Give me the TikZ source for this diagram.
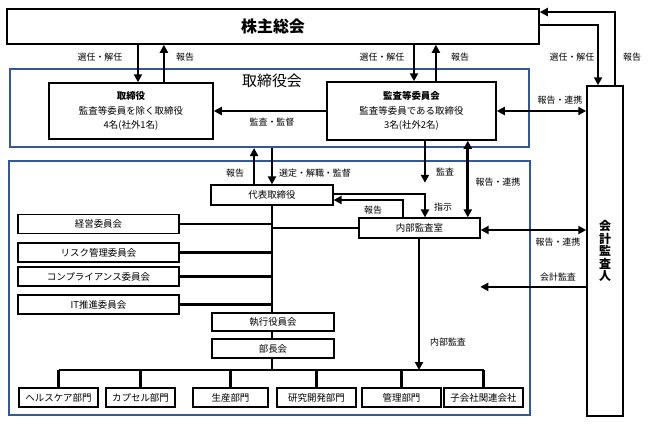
\documentclass[tikz,border=0pt]{standalone}
\usepackage{fontspec}
\setmainfont{Noto Sans CJK JP}
\usetikzlibrary{arrows.meta, positioning}
\definecolor{frameblue}{RGB}{50,88,150}
\tikzset{
  box/.style={draw, line width=1.2bp, fill=white, inner sep=0pt, font=\fontsize{9.5}{11}\selectfont},
  frame/.style={draw=frameblue, line width=2bp, inner sep=0pt},
  link/.style={line width=2.6bp},
  arr/.style={link, -{Triangle[length=8bp,width=8bp]}},
  darr/.style={link, {Triangle[length=8bp,width=8bp]}-{Triangle[length=8bp,width=8bp]}},
  lbl/.style={font=\fontsize{9}{10}\selectfont, inner sep=1pt}
}
\begin{document}
\begin{tikzpicture}[x=1bp, y=-1bp]
            \useasboundingbox (0,0) rectangle (648,424);

            % frames
            \node[frame, minimum width=519bp, minimum height=78bp] (board) at (269.5,108) {};
            \node[frame, minimum width=521bp, minimum height=254bp] (exec) at (269.5,288) {};
            \node[font=\fontsize{15}{16}\selectfont] (boardt) at (272,81) {取締役会};

            \node[box, line width=1.5bp, minimum width=532bp, minimum height=35bp, font=\fontsize{16}{18}\selectfont\bfseries] (sh) at (273,26.5) {株主総会};
            \node[box, line width=1.5bp, minimum width=164bp, minimum height=56bp, align=center, font=\fontsize{9.5}{14.5}\selectfont] (dir) at (131,111) {\textbf{取締役}\\監査等委員を除く取締役\\4名(社外1名)};
            \node[box, line width=1.5bp, minimum width=169bp, minimum height=58bp, align=center, font=\fontsize{9.5}{14.5}\selectfont] (acm) at (411.5,111) {\textbf{監査等委員会}\\監査等委員である取締役\\3名(社外2名)};
            \node[box, line width=1.5bp, minimum width=36bp, minimum height=330bp, align=center, font=\fontsize{12}{12.5}\selectfont\bfseries] (aud) at (605,251) {会\\計\\監\\査\\人};

            \node[box, minimum width=122bp, minimum height=20bp] (ceo) at (272,195) {代表取締役};
            \node[box, minimum width=121bp, minimum height=20bp] (ia) at (419.5,228) {内部監査室};

            % committees
            \node[box, minimum width=161bp, minimum height=19bp] (c1) at (98.5,224) {経営委員会};
            \node[box, minimum width=161bp, minimum height=19bp] (c2) at (98.5,252.5) {リスク管理委員会};
            \node[box, minimum width=161bp, minimum height=19bp] (c3) at (98.5,276.5) {コンプライアンス委員会};
            \node[box, minimum width=161bp, minimum height=19bp] (c4) at (98.5,304.5) {IT推進委員会};

            \node[box, minimum width=122bp, minimum height=18bp] (off) at (273,322) {執行役員会};
            \node[box, minimum width=122bp, minimum height=19bp] (mgr) at (273,348.5) {部長会};

            % departments
            \node[box, minimum width=79bp, minimum height=19bp] (hc) at (58.5,397.5) {ヘルスケア部門};
            \node[box, minimum width=69bp, minimum height=19bp] (cap) at (140.5,397.5) {カプセル部門};
            \node[box, minimum width=75bp, minimum height=19bp] (prod) at (230.5,397.5) {生産部門};
            \node[box, minimum width=79bp, minimum height=19bp] (rd) at (316.5,397.5) {研究開発部門};
            \node[box, minimum width=79bp, minimum height=19bp] (adm) at (401.5,397.5) {管理部門};
            \node[box, minimum width=79bp, minimum height=19bp] (sub) at (483.5,397.5) {子会社関連会社};
            \coordinate (bus) at (272,370);

            % shareholders <-> board
            \draw[arr] ([xshift=7]dir.north |- sh.south) -- ([xshift=7]dir.north);
            \draw[arr] ([xshift=33]dir.north) -- ([xshift=33]dir.north |- sh.south);
            \draw[arr] ([xshift=2.5]acm.north |- sh.south) -- ([xshift=2.5]acm.north);
            \draw[arr] ([xshift=24.5]acm.north) -- ([xshift=24.5]acm.north |- sh.south);
            \draw[arr] ([yshift=1.5]sh.east) -| ([xshift=-7]aud.north);
            \draw[arr] ([xshift=10]aud.north) |- ([yshift=14.5]sh.east);
            \node[lbl] (l1) at (100,57) {選任・解任};
            \node[lbl] (l2) at (185,57) {報告};
            \node[lbl] (l3) at (382,57) {選任・解任};
            \node[lbl] (l4) at (460,57) {報告};
            \node[lbl] (l5) at (572,57) {選任・解任};
            \node[lbl] (l6) at (632,57) {報告};

            % audit committee
            \draw[darr] (acm.east) -- (acm.east -| aud.west);
            \node[lbl] (l7) at (560,100) {報告・連携};
            \draw[arr] (acm.west) -- (dir.east);
            \node[lbl] (l8) at (272,122) {監査・監督};
            \draw[arr] ([xshift=13.5]acm.south) -- ++(0,42);
            \node[lbl] (l9) at (445,172) {監査};
            \draw[darr] ([xshift=56.5]acm.south) -- ([xshift=56.5]acm.south |- ia.north);
            \node[lbl] (l10) at (498,182) {報告・連携};

            % board <-> ceo
            \draw[arr] ([xshift=-18]ceo.north) -- ([xshift=-18]ceo.north |- board.south);
            \draw[arr] (ceo.north |- board.south) -- (ceo.north);
            \node[lbl] (l11) at (235,173) {報告};
            \node[lbl] (l12) at (315,173) {選定・解職・監督};

            % internal audit
            \draw[arr] ([yshift=1]ceo.east) -| ([xshift=5.5]ia.north);
            \draw[arr] ([xshift=-16.5]ia.north) |- ([yshift=-5]ceo.east);
            \node[lbl] (l13) at (373,210) {報告};
            \node[lbl] (l14) at (443,207) {指示};
            \draw[darr] ([yshift=-2]ia.east) -- ([yshift=-2]ia.east -| aud.west);
            \node[lbl] (l15) at (558,242) {報告・連携};
            \draw[arr] ([yshift=-36]aud.west) -- ++(-106,0);
            \node[lbl] (l16) at (558,277) {会計監査};
            \draw[arr] ([xshift=-0.5]ia.south) -- ([xshift=-0.5]ia.south |- bus);
            \node[lbl] (l17) at (448,342) {内部監査};

            % spine
            \draw[link] (ceo.south) -- (off.north -| ceo.south);
            \draw[link] (off.south -| ceo.south) -- (mgr.north -| ceo.south);
            \draw[link] (mgr.south -| ceo.south) -- (bus);
            \draw[link] (ceo.south |- ia.west) -- (ia.west);
            \foreach \c in {c1,c2,c3,c4}
              \draw[link] (\c.east) -- (\c.east -| ceo.south);
            \draw[link] (hc.north |- bus) -- (sub.north |- bus);
            \foreach \d in {hc,cap,prod,rd,adm,sub}
              \draw[link] (\d.north |- bus) -- (\d.north);
     \end{tikzpicture}
\end{document}
